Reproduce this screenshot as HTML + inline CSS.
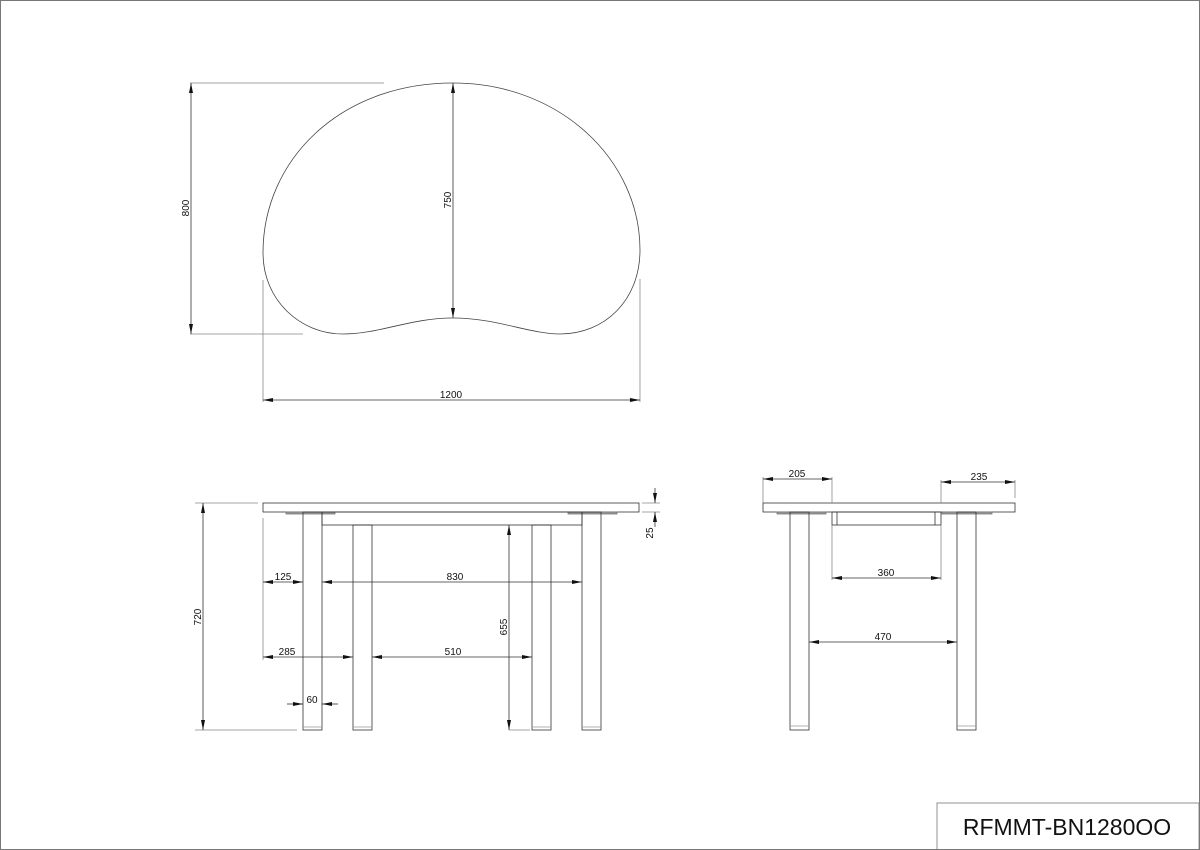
<!DOCTYPE html>
<html><head><meta charset="utf-8"><style>
html,body{margin:0;padding:0;background:#fff}
svg{display:block}
text{font-family:"Liberation Sans",sans-serif;font-size:10px;fill:#111}
</style></head><body>
<svg width="1200" height="850" viewBox="0 0 1200 850" xmlns="http://www.w3.org/2000/svg">
<defs>
<marker id="a" viewBox="0 0 10 4" refX="10" refY="2" markerWidth="10" markerHeight="4" orient="auto-start-reverse" markerUnits="userSpaceOnUse">
<path d="M0,0 L10,2 L0,4 Z" fill="#111"/></marker>
</defs>
<rect x="0.5" y="0.5" width="1199" height="849" fill="none" stroke="#777" stroke-width="1"/>
<g stroke="#333" stroke-width="0.8" fill="none">
<!-- top view -->
<path d="M453,83 C340,83 263,160 263,253 C263,300 300,334 343,334 C380,334 410,318 453,318 C496,318 530,334 560,334 C605,334 640,300 640,250 C640,160 560,83 453,83 Z" stroke="#444"/>
<line x1="190" y1="83" x2="384" y2="83" stroke="#888"/>
<line x1="190" y1="334" x2="303" y2="334" stroke="#888"/>
<line x1="191" y1="83" x2="191" y2="334" marker-start="url(#a)" marker-end="url(#a)"/>
<line x1="453" y1="83" x2="453" y2="318" marker-start="url(#a)" marker-end="url(#a)"/>
<line x1="263" y1="280" x2="263" y2="402" stroke="#888"/>
<line x1="640" y1="279" x2="640" y2="402" stroke="#888"/>
<line x1="263" y1="400" x2="640" y2="400" marker-start="url(#a)" marker-end="url(#a)"/>

<!-- front view -->
<rect x="263" y="503" width="376" height="9"/>
<rect x="286" y="512" width="49" height="2" fill="#999" stroke="#777"/>
<rect x="568" y="512" width="49" height="2" fill="#999" stroke="#777"/>
<rect x="322" y="512" width="260" height="13"/>
<rect x="303" y="512" width="19" height="218"/>
<rect x="353" y="525" width="19" height="205"/>
<rect x="532" y="525" width="19" height="205"/>
<rect x="582" y="512" width="19" height="218"/>
<line x1="303" y1="727" x2="322" y2="727" stroke="#999"/>
<line x1="353" y1="727" x2="372" y2="727" stroke="#999"/>
<line x1="532" y1="727" x2="551" y2="727" stroke="#999"/>
<line x1="582" y1="727" x2="601" y2="727" stroke="#999"/>
<line x1="195" y1="503" x2="258" y2="503" stroke="#888"/>
<line x1="195" y1="730" x2="297" y2="730" stroke="#888"/>
<line x1="203" y1="503" x2="203" y2="730" marker-start="url(#a)" marker-end="url(#a)"/>
<line x1="263" y1="518" x2="263" y2="660" stroke="#888"/>
<line x1="263" y1="582" x2="303" y2="582" marker-start="url(#a)" marker-end="url(#a)"/>
<line x1="322" y1="582" x2="582" y2="582" marker-start="url(#a)" marker-end="url(#a)"/>
<line x1="263" y1="657" x2="353" y2="657" marker-start="url(#a)" marker-end="url(#a)"/>
<line x1="372" y1="657" x2="532" y2="657" marker-start="url(#a)" marker-end="url(#a)"/>
<line x1="509" y1="525" x2="509" y2="730" marker-start="url(#a)" marker-end="url(#a)"/>
<line x1="509" y1="730" x2="530" y2="730" stroke="#888"/>
<line x1="287" y1="704" x2="303" y2="704" marker-end="url(#a)"/>
<line x1="338" y1="704" x2="322" y2="704" marker-end="url(#a)"/>
<line x1="642" y1="503" x2="660" y2="503" stroke="#888"/>
<line x1="642" y1="512" x2="660" y2="512" stroke="#888"/>
<line x1="655" y1="488" x2="655" y2="503" marker-end="url(#a)"/>
<line x1="655" y1="527" x2="655" y2="512" marker-end="url(#a)"/>

<!-- side view -->
<rect x="763" y="503" width="252" height="9"/>
<rect x="777" y="512" width="49" height="2" fill="#999" stroke="#777"/>
<rect x="942" y="512" width="50" height="2" fill="#999" stroke="#777"/>
<rect x="832" y="512" width="109" height="13"/>
<line x1="837" y1="512" x2="837" y2="525"/>
<line x1="935" y1="512" x2="935" y2="525"/>
<rect x="790" y="512" width="19" height="218"/>
<rect x="957" y="512" width="19" height="218"/>
<line x1="790" y1="726" x2="809" y2="726" stroke="#999"/>
<line x1="957" y1="726" x2="976" y2="726" stroke="#999"/>
<line x1="763" y1="477" x2="763" y2="503" stroke="#888"/>
<line x1="832" y1="477" x2="832" y2="503" stroke="#888"/>
<line x1="763" y1="479" x2="832" y2="479" marker-start="url(#a)" marker-end="url(#a)"/>
<line x1="941" y1="480" x2="941" y2="503" stroke="#888"/>
<line x1="1015" y1="480" x2="1015" y2="498" stroke="#888"/>
<line x1="941" y1="482" x2="1015" y2="482" marker-start="url(#a)" marker-end="url(#a)"/>
<line x1="832" y1="525" x2="832" y2="580" stroke="#888"/>
<line x1="941" y1="525" x2="941" y2="580" stroke="#888"/>
<line x1="832" y1="578" x2="941" y2="578" marker-start="url(#a)" marker-end="url(#a)"/>
<line x1="809" y1="642" x2="957" y2="642" marker-start="url(#a)" marker-end="url(#a)"/>

<rect x="937" y="803" width="262" height="48" stroke="#777"/>
</g>
<text x="451" y="398" text-anchor="middle">1200</text>
<text transform="translate(189,208) rotate(-90)" text-anchor="middle">800</text>
<text transform="translate(451,200) rotate(-90)" text-anchor="middle">750</text>
<text transform="translate(201,617) rotate(-90)" text-anchor="middle">720</text>
<text transform="translate(507,627) rotate(-90)" text-anchor="middle">655</text>
<text transform="translate(653,533) rotate(-90)" text-anchor="middle">25</text>
<text x="283" y="580" text-anchor="middle">125</text>
<text x="455" y="580" text-anchor="middle">830</text>
<text x="287" y="655" text-anchor="middle">285</text>
<text x="453" y="655" text-anchor="middle">510</text>
<text x="312" y="703" text-anchor="middle">60</text>
<text x="797" y="477" text-anchor="middle">205</text>
<text x="979" y="480" text-anchor="middle">235</text>
<text x="886" y="576" text-anchor="middle">360</text>
<text x="883" y="640" text-anchor="middle">470</text>
<text x="1067" y="835" text-anchor="middle" style="font-size:23px">RFMMT-BN1280OO</text>
</svg>
</body></html>
